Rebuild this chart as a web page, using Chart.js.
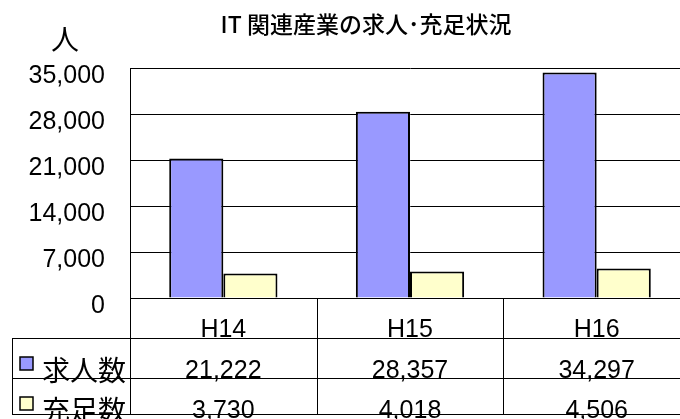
<!DOCTYPE html>
<html>
<head>
<meta charset="utf-8">
<script src="https://cdn.jsdelivr.net/npm/chart.js@4"></script>
<style>
  html, body { margin: 0; padding: 0; background: #fff; overflow: hidden; }
  #wrap { width: 692px; height: 419px; }
</style>
</head>
<body>
<div id="wrap"><canvas id="itChart" width="692" height="419"></canvas></div>
<script>
const categories = ['H14', 'H15', 'H16'];
const seriesNames = ['求人数', '充足数'];
const kyujin = [21222, 28357, 34297];
const juusoku = [3730, 4018, 4506];
const yTicks = [0, 7000, 14000, 21000, 28000, 35000];

const numFont = '"Liberation Sans", Arial, sans-serif';
const jpFont = '"Noto Sans CJK JP", sans-serif';
const colors = ['#9999FF', '#FFFFCC'];

// タイトル・単位・データ表を描く
const tablePlugin = {
  id: 'tablePlugin',
  afterDraw(chart) {
    const ctx = chart.ctx;
    const x = chart.scales.x;
    const area = chart.chartArea;
    const rows = [area.bottom, 338.5, 378.5, 414.5];
    const values = [kyujin, juusoku];

    ctx.save();
    ctx.fillStyle = '#000';
    ctx.textAlign = 'center';
    ctx.textBaseline = 'middle';
    ctx.font = '500 23px ' + jpFont;
    ctx.fillText('IT 関連産業の求人･充足状況', 366, 24);
    ctx.font = '28px ' + jpFont;
    ctx.fillText('人', 65, 39);

    ctx.strokeStyle = '#000';
    ctx.lineWidth = 1;
    ctx.beginPath();
    for (let r = 1; r < rows.length; r++) {
      ctx.moveTo(12, rows[r]);
      ctx.lineTo(chart.width, rows[r]);
    }
    ctx.moveTo(12.5, rows[1]);
    ctx.lineTo(12.5, rows[3]);
    ctx.moveTo(130.5, area.bottom);
    ctx.lineTo(130.5, rows[3]);
    for (let i = 0; i < categories.length - 1; i++) {
      const bx = Math.round((x.getPixelForValue(i) + x.getPixelForValue(i + 1)) / 2) + 0.5;
      ctx.moveTo(bx, area.bottom);
      ctx.lineTo(bx, rows[3]);
    }
    ctx.stroke();

    ctx.textBaseline = 'alphabetic';
    ctx.font = '25px ' + numFont;
    categories.forEach((c, i) => {
      ctx.fillText(c, x.getPixelForValue(i), 337);
    });
    values.forEach((vals, s) => {
      vals.forEach((v, i) => {
        ctx.fillText(v.toLocaleString('en-US'), x.getPixelForValue(i), 378 + s * 40);
      });
      // 凡例
      const ky = 357 + s * 40;
      ctx.fillStyle = colors[s];
      ctx.fillRect(20, ky, 13, 13);
      ctx.lineWidth = 1.5;
      ctx.strokeRect(20, ky, 13, 13);
      ctx.fillStyle = '#000';
      ctx.textAlign = 'left';
      ctx.font = '28px ' + jpFont;
      ctx.fillText(seriesNames[s], 42, 381 + s * 40);
      ctx.textAlign = 'center';
      ctx.font = '25px ' + numFont;
    });
    ctx.restore();
  }
};

const itChart = new Chart(document.getElementById('itChart').getContext('2d'), {
  type: 'bar',
  data: {
    labels: categories,
    datasets: [
      { label: seriesNames[0], data: kyujin, backgroundColor: colors[0], borderColor: '#000', borderWidth: 2 },
      { label: seriesNames[1], data: juusoku, backgroundColor: colors[1], borderColor: '#000', borderWidth: 2 }
    ]
  },
  options: {
    responsive: false,
    animation: false,
    devicePixelRatio: 1,
    datasets: { bar: { categoryPercentage: 0.58, barPercentage: 1.0 } },
    layout: { padding: { top: 68, right: 2, left: 0, bottom: 0 } },
    plugins: { legend: { display: false }, title: { display: false }, tooltip: { enabled: false } },
    scales: {
      x: {
        grid: { display: false },
        border: { display: true, color: '#000', width: 1 },
        ticks: { display: false },
        afterFit(scale) { scale.height = 121; }
      },
      y: {
        min: 0,
        max: 35000,
        afterBuildTicks(scale) { scale.ticks = yTicks.map(v => ({ value: v })); },
        afterFit(scale) { scale.width = 130; },
        grid: { color: '#000', lineWidth: 1, drawTicks: false },
        border: { display: true, color: '#000', width: 1 },
        ticks: {
          color: '#000',
          padding: 25,
          labelOffset: 8,
          font: { family: numFont, size: 25 },
          callback: v => v.toLocaleString('en-US')
        }
      }
    }
  },
  plugins: [tablePlugin]
});
</script>
</body>
</html>
